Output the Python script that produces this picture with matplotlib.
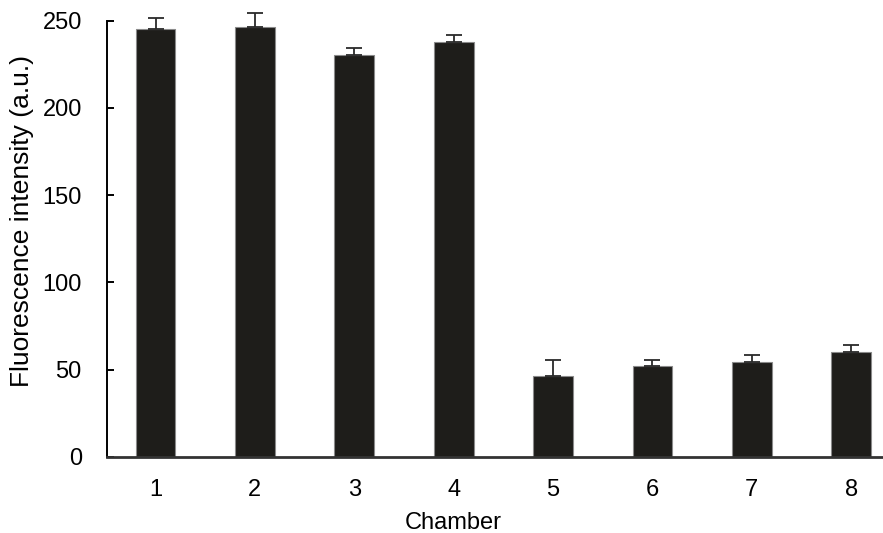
import matplotlib

matplotlib.use("Agg")
import matplotlib.pyplot as plt

plt.rcParams["font.family"] = ["Liberation Sans", "DejaVu Sans"]

chambers = [1, 2, 3, 4, 5, 6, 7, 8]
intensity = [245.2, 246.3, 230.6, 238.0, 46.5, 51.9, 54.7, 60.0]
errors = [6.1, 8.0, 3.8, 3.9, 9.1, 3.7, 3.9, 3.9]
y_ticks = [0, 50, 100, 150, 200, 250]

fig = plt.figure(figsize=(8.83, 5.33), dpi=100, facecolor="white")
ax = fig.add_axes([0.121, 0.1426, 0.879, 0.8186])

ax.bar(
    chambers,
    intensity,
    width=0.40,
    color="#1e1d1a",
    edgecolor="#8a8a8a",
    linewidth=0.8,
    zorder=2,
)
err = ax.errorbar(
    chambers,
    intensity,
    yerr=[[0] * len(errors), errors],
    fmt="none",
    ecolor="#2a2a2a",
    elinewidth=1.3,
    capsize=6,
    capthick=1.3,
    zorder=3,
)
# caps of the tall bars sit above the 250 line
for artist in err.get_children():
    artist.set_clip_on(False)

ax.set_xlim(0.51, 8.32)
ax.set_ylim(0, 250)
ax.set_yticks(y_ticks)
ax.set_xticks(chambers)

for side in ("top", "right"):
    ax.spines[side].set_visible(False)
ax.spines["left"].set_linewidth(1.4)
ax.spines["bottom"].set_linewidth(2.0)
ax.spines["bottom"].set_color("#333333")

ax.tick_params(axis="y", direction="in", length=5, width=1.4, pad=18, labelsize=17)
ax.tick_params(axis="x", length=0, pad=16, labelsize=17)

ax.set_xlabel("Chamber", fontsize=17)
ax.xaxis.set_label_coords(0.446, -0.125)
ax.set_ylabel("Fluorescence intensity (a.u.)", fontsize=19, va="center")
ax.yaxis.set_label_coords(-0.1095, 0.54)

fig.savefig("out.png", dpi=100, facecolor="white")
